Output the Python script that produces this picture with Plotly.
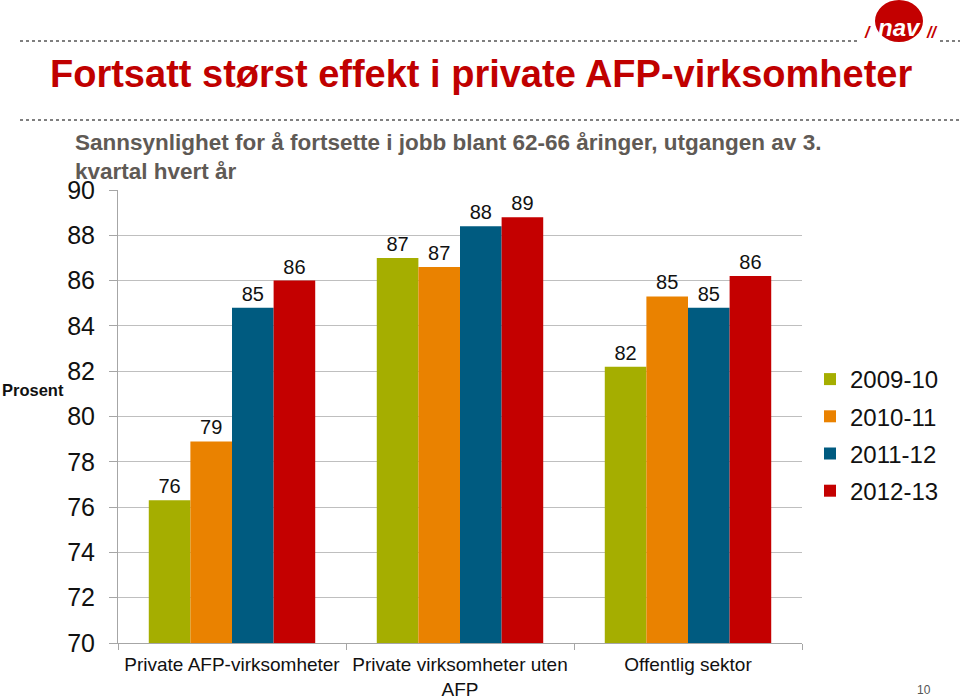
import plotly.graph_objects as go

categories = ["Private AFP-virksomheter", "Private virksomheter uten<br>AFP", "Offentlig sektor"]
series_names = ["2009-10", "2010-11", "2011-12", "2012-13"]
v_2009 = [76.3, 87.0, 82.2]
v_2010 = [78.9, 86.6, 85.3]
v_2011 = [84.8, 88.4, 84.8]
v_2012 = [86.0, 88.8, 86.2]
colors = ["#A5AE00", "#EA8200", "#005B80", "#C40000"]
y_ticks = [70, 72, 74, 76, 78, 80, 82, 84, 86, 88, 90]

W, H = 960, 699
L, R, T, B = 118, 802, 190, 643


def px(x):
    return (x - L) / (R - L)


def py(y):
    return (B - y) / (B - T)


fig = go.Figure()
for name, vals, c in zip(series_names, [v_2009, v_2010, v_2011, v_2012], colors):
    fig.add_trace(go.Bar(
        name=name, x=categories, y=vals, marker=dict(color=c, line=dict(width=0)),
        legendgroup=name,
        texttemplate="%{y:.0f}", textposition="outside", cliponaxis=False,
        textfont=dict(size=20, color="#111111", family="Liberation Sans, Arial"),
    ))

fig.update_layout(
    width=W, height=H, autosize=False,
    margin=dict(l=L, r=W - R, t=T, b=H - B),
    paper_bgcolor="white", plot_bgcolor="white",
    barmode="group", bargap=0.27, bargroupgap=0,
    font=dict(family="Liberation Sans, Arial", color="#111111"),
    showlegend=True,
    legend=dict(x=px(810), y=py(357), xanchor="left", yanchor="top",
                font=dict(size=24, color="#111111"), itemwidth=30,
                tracegroupgap=3, bgcolor="rgba(0,0,0,0)"),
    xaxis=dict(showline=True, linecolor="#a6a6a6", linewidth=1, automargin=False,
               ticks="outside", tickson="boundaries", ticklen=6, tickcolor="#a6a6a6",
               tickfont=dict(size=19, color="#111111"), showgrid=False,
               ticklabelstandoff=4),
    yaxis=dict(range=[70, 90], tickvals=y_ticks, showline=True, linecolor="#a6a6a6",
               linewidth=1, ticks="outside", ticklen=8, tickcolor="#a6a6a6", automargin=False,
               showgrid=True, gridcolor="#bfbfbf", gridwidth=1,
               tickfont=dict(size=25, color="#111111"), zeroline=False,
               ticklabelstandoff=9),
)

# Title
fig.add_annotation(text="<b>Fortsatt størst effekt i private AFP-virksomheter</b>",
                   xref="paper", yref="paper", x=px(48), y=py(74), xanchor="left", yanchor="middle",
                   showarrow=False, font=dict(size=38, color="#C00000"))
# Subtitle
fig.add_annotation(text="<b>Sannsynlighet for å fortsette i jobb blant 62-66 åringer, utgangen av 3.<br>kvartal hvert år</b>",
                   xref="paper", yref="paper", x=px(73), y=py(128), xanchor="left", yanchor="top",
                   align="left", showarrow=False, font=dict(size=22.5, color="#5f5a55"))
# Y label
fig.add_annotation(text="<b>Prosent</b>", xref="paper", yref="paper", x=px(0), y=py(390),
                   xanchor="left", yanchor="middle", showarrow=False,
                   font=dict(size=16.5, color="#111111"))
# Page number
fig.add_annotation(text="10", xref="paper", yref="paper", x=px(933), y=py(690),
                   xanchor="right", yanchor="middle", showarrow=False,
                   font=dict(size=12, color="#555555"))

# dotted lines
fig.add_shape(type="line", xref="paper", yref="paper", x0=px(20), x1=px(858), y0=py(41), y1=py(41),
              line=dict(color="#7f7f7f", width=2, dash="dot"))
fig.add_shape(type="line", xref="paper", yref="paper", x0=px(940), x1=px(960), y0=py(41), y1=py(41),
              line=dict(color="#7f7f7f", width=2, dash="dot"))
fig.add_shape(type="line", xref="paper", yref="paper", x0=px(20), x1=px(960), y0=py(120), y1=py(120),
              line=dict(color="#7f7f7f", width=2, dash="dot"))

# NAV logo
fig.add_shape(type="circle", xref="paper", yref="paper", x0=px(875), x1=px(923), y0=py(42), y1=py(0),
              fillcolor="#C30000", line=dict(width=0))
fig.add_annotation(text="<b><i>nav</i></b>", xref="paper", yref="paper", x=px(899), y=py(28),
                   xanchor="center", yanchor="middle",
                   showarrow=False, font=dict(size=24, color="white"))
fig.add_annotation(text="<b><i>/</i></b>", xref="paper", yref="paper", x=px(867), y=py(32),
                   xanchor="center", yanchor="middle",
                   showarrow=False, font=dict(size=16, color="#C30000"))
fig.add_annotation(text="<b><i>//</i></b>", xref="paper", yref="paper", x=px(931), y=py(32),
                   xanchor="center", yanchor="middle",
                   showarrow=False, font=dict(size=16, color="#C30000"))

fig.write_html("out.html", config={"displayModeBar": False},
               post_script="document.body.style.margin='0';")
